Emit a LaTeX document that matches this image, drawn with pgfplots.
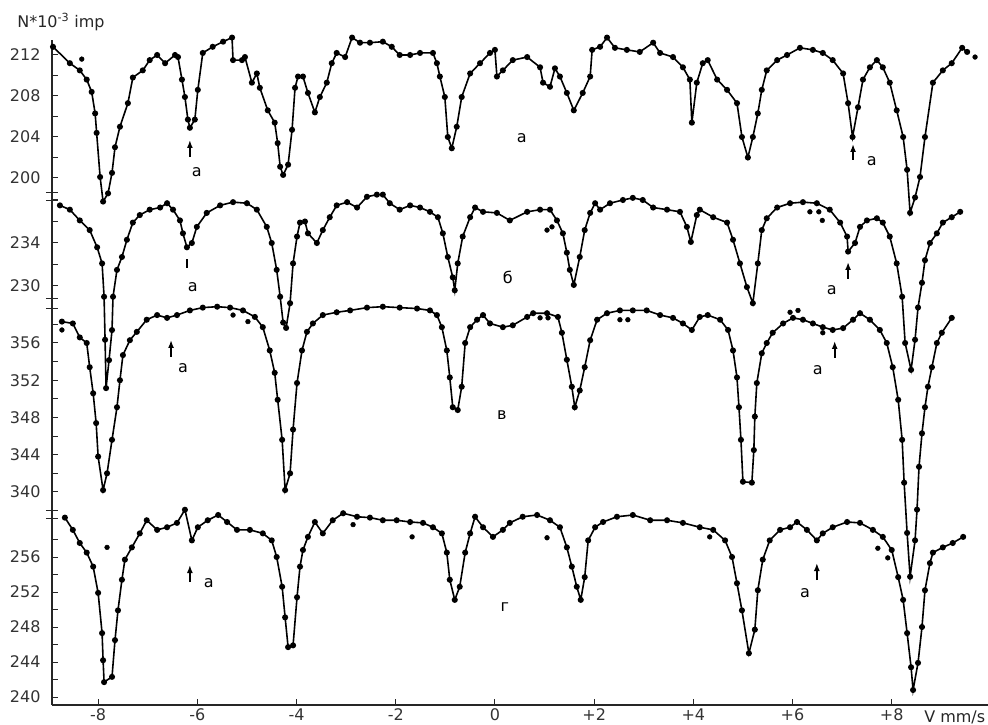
\documentclass[border=0pt]{standalone}
\usepackage{fontspec}
\setmainfont{DejaVu Sans}
\usepackage{pgfplots}
\pgfplotsset{compat=1.18}
\usetikzlibrary{arrows.meta}
\newcommand\lab{\fontsize{16}{19}\selectfont}

\tikzset{arr/.style={-{Latex[length=8pt,width=6pt]}, line width=1.6pt}}
\pgfplotsset{
  spec/.style={anchor=south west, x=49.6pt, xmin=-8.93, xmax=9.94,
    axis x line=none, axis y line*=left, y axis line style={draw=none},
    clip=false, tick align=inside, major tick length=6pt, minor tick length=6pt,
    tick style={black!85, line width=1pt},
    yticklabel style={font=\lab, text=black!80, xshift=-8pt},
    /pgf/number format/assume math mode=true,
    extra y tick labels={},
    extra y tick style={tick align=center, major tick length=12pt},
  },
  curve/.style={black, line width=1.6pt, mark=*, mark size=2.2pt, mark options={solid}},
  dots/.style={black, only marks, mark=*, mark size=2.4pt},
}

\begin{document}
\begin{tikzpicture}
\useasboundingbox (0,0) rectangle (988pt,724pt);

% frame axis (y in picture units)
\begin{axis}[at={(52pt,19pt)}, anchor=south west, x=49.6pt, y=1pt,
  xmin=-8.93, xmax=9.94, ymin=19, ymax=684,
  axis x line*=bottom, axis y line*=left,
  axis line style={line width=1.3pt, black!85},
  xtick={-8,-6,-4,-2,0,2,4,6,8}, xticklabels={-8,-6,-4,-2,0,+2,+4,+6,+8},
  ytick=\empty, tick align=inside, major tick length=6pt,
  tick style={black!85, line width=1pt},
  xticklabel style={font=\lab, text=black!80},
  clip=false]
\node[font=\lab, text=black!85] at (axis cs:9.27,7) {V mm/s};
\node[font=\lab, text=black!85, anchor=west] at (axis cs:-9.70,702) {N*10\textsuperscript{-3} imp};
% labels
\node[font=\lab] at (axis cs:-6.01,552) {а};
\node[font=\lab] at (axis cs:0.54,586) {а};
\node[font=\lab] at (axis cs:7.60,563) {а};
\node[font=\lab] at (axis cs:-6.09,437) {а};
\node[font=\lab] at (axis cs:0.26,447) {б};
\node[font=\lab] at (axis cs:6.79,434) {а};
\node[font=\lab] at (axis cs:-6.29,356) {а};
\node[font=\lab] at (axis cs:0.14,309) {в};
\node[font=\lab] at (axis cs:6.51,354) {а};
\node[font=\lab] at (axis cs:-5.77,141) {а};
\node[font=\lab] at (axis cs:0.20,117) {г};
\node[font=\lab] at (axis cs:6.25,131) {а};
% arrows
\draw[arr] (axis cs:-6.15,567) -- (axis cs:-6.15,584);
\draw[arr] (axis cs:7.22,564) -- (axis cs:7.22,580);
\draw[line width=1.8pt] (axis cs:-6.21,456) -- (axis cs:-6.21,465);
\draw[arr] (axis cs:7.12,445) -- (axis cs:7.12,462);
\draw[arr] (axis cs:-6.53,367) -- (axis cs:-6.53,384);
\draw[arr] (axis cs:6.85,366) -- (axis cs:6.85,383);
\draw[arr] (axis cs:-6.15,142) -- (axis cs:-6.15,159);
\draw[arr] (axis cs:6.49,144) -- (axis cs:6.49,161);
\end{axis}

% spectrum a (top)
\begin{axis}[spec, at={(52pt,505pt)}, y=10.25pt, ymin=196, ymax=214,
  ytick={200,204,208,212}, minor ytick={202,206,210},
  extra y ticks={198.63,197.76}]
\addplot[curve] table {
-8.91 212.8
-8.57 211.2
-8.37 210.5
-8.23 209.6
-8.13 208.4
-8.06 206.3
-8.03 204.4
-7.96 200.1
-7.90 197.7
-7.80 198.5
-7.72 200.5
-7.66 203.0
-7.56 205.0
-7.40 207.3
-7.30 209.8
-7.10 210.5
-6.96 211.5
-6.81 212.0
-6.65 211.2
-6.45 212.0
-6.39 211.8
-6.31 209.6
-6.25 207.9
-6.19 205.7
-6.15 204.9
-6.05 205.7
-5.99 208.6
-5.89 212.2
-5.69 212.8
-5.48 213.3
-5.30 213.7
-5.28 211.5
-5.10 211.5
-5.04 211.8
-4.90 209.3
-4.80 210.2
-4.74 208.8
-4.58 206.6
-4.44 205.4
-4.38 203.4
-4.33 201.1
-4.27 200.3
-4.17 201.3
-4.09 204.7
-4.03 208.8
-3.97 209.9
-3.87 209.9
-3.77 208.3
-3.63 206.4
-3.53 207.9
-3.39 209.3
-3.29 211.2
-3.19 212.2
-3.02 211.8
-2.88 213.7
-2.72 213.2
-2.52 213.2
-2.26 213.3
-2.08 212.8
-1.92 212.0
-1.71 212.0
-1.51 212.2
-1.25 212.2
-1.17 211.2
-1.11 209.9
-1.01 207.9
-0.95 204.0
-0.87 202.9
-0.77 205.0
-0.67 207.9
-0.50 210.2
-0.30 211.2
-0.10 212.2
0.00 212.5
0.04 209.9
0.16 210.5
0.36 211.5
0.65 211.8
0.91 210.8
0.97 209.3
1.11 208.9
1.21 210.7
1.31 209.9
1.45 208.3
1.59 206.6
1.77 208.3
1.92 209.9
1.96 212.5
2.12 212.8
2.26 213.7
2.42 212.7
2.66 212.5
2.92 212.3
3.19 213.2
3.33 212.2
3.59 211.8
3.79 210.8
3.93 209.6
3.97 205.4
4.07 209.3
4.19 211.2
4.29 211.5
4.48 209.6
4.68 208.6
4.88 207.3
4.98 204.0
5.10 202.0
5.20 204.0
5.30 206.3
5.38 208.6
5.48 210.5
5.69 211.5
5.89 212.0
6.15 212.7
6.41 212.5
6.61 212.2
6.81 211.5
7.02 210.2
7.12 207.3
7.21 204.0
7.32 206.9
7.42 209.6
7.56 210.8
7.70 211.5
7.82 210.8
7.96 209.3
8.10 206.6
8.23 204.0
8.31 200.8
8.37 196.6
8.47 198.1
8.57 200.1
8.67 204.0
8.83 209.3
9.03 210.5
9.21 211.2
9.42 212.7
9.52 212.3
};
\addplot[dots] table {
-8.33 211.6
9.68 211.8
};
\end{axis}

% spectrum b
\begin{axis}[spec, at={(52pt,330.5pt)}, y=10.75pt, ymin=220, ymax=240,
  ytick={230,234}, minor ytick={232,236,238},
  extra y ticks={228.88,227.95}]
\addplot[curve] table {
-8.77 237.5
-8.57 237.1
-8.37 236.1
-8.17 235.2
-8.02 233.6
-7.92 232.1
-7.88 229.0
-7.86 225.0
-7.84 220.5
-7.78 223.1
-7.72 225.9
-7.70 229.0
-7.62 231.5
-7.52 232.7
-7.42 234.3
-7.30 235.9
-7.16 236.6
-6.96 237.1
-6.75 237.3
-6.61 237.7
-6.49 237.1
-6.35 236.1
-6.29 234.9
-6.21 233.6
-6.11 234.0
-6.01 235.5
-5.81 236.8
-5.54 237.5
-5.28 237.8
-5.00 237.7
-4.80 237.1
-4.60 235.5
-4.50 234.0
-4.40 231.5
-4.33 229.0
-4.27 226.6
-4.21 226.1
-4.13 228.4
-4.07 232.1
-3.99 234.6
-3.93 235.9
-3.83 236.0
-3.77 234.9
-3.59 234.0
-3.47 235.2
-3.33 236.4
-3.19 237.5
-2.98 237.8
-2.78 237.3
-2.58 238.3
-2.38 238.5
-2.26 238.5
-2.12 237.7
-1.92 237.1
-1.71 237.5
-1.51 237.3
-1.31 236.9
-1.15 236.4
-1.05 234.9
-0.95 232.7
-0.85 230.8
-0.81 229.6
-0.75 232.1
-0.65 234.6
-0.50 236.4
-0.40 237.3
-0.24 236.9
0.04 236.8
0.30 236.1
0.65 236.9
0.91 237.1
1.11 237.1
1.25 236.1
1.37 234.9
1.45 233.1
1.51 231.5
1.59 230.1
1.71 232.7
1.81 235.2
1.92 236.8
2.02 237.7
2.12 237.1
2.32 237.7
2.58 238.0
2.78 238.2
2.98 238.0
3.19 237.3
3.47 237.1
3.73 236.9
3.87 235.5
3.95 234.1
4.07 236.6
4.13 237.1
4.40 236.4
4.68 235.9
4.80 234.3
4.94 232.1
5.08 229.9
5.20 228.4
5.30 232.1
5.38 235.2
5.48 236.3
5.69 237.3
5.95 237.7
6.21 237.8
6.49 237.7
6.75 237.1
6.96 235.9
7.10 234.6
7.12 233.2
7.26 234.0
7.36 235.5
7.50 236.1
7.70 236.3
7.82 235.9
7.96 234.6
8.10 232.1
8.21 229.0
8.27 224.7
8.39 222.2
8.47 225.0
8.53 228.0
8.61 230.3
8.67 232.4
8.77 234.0
8.91 234.9
9.03 235.9
9.21 236.4
9.38 236.9
};
\addplot[dots] table {
1.05 235.2
1.15 235.5
6.35 236.9
6.53 236.9
6.60 236.1
};
\end{axis}

% spectrum v
\begin{axis}[spec, at={(52pt,138.94pt)}, y=9.31pt, ymin=330, ymax=361,
  ytick={340,344,348,352,356}, minor ytick={342,346,350,354,358},
  extra y ticks={338.06,337.2}]
\addplot[curve] table {
-8.73 358.3
-8.51 358.1
-8.37 356.6
-8.23 356.0
-8.17 353.4
-8.10 350.6
-8.04 347.4
-8.00 343.8
-7.90 340.2
-7.82 342.0
-7.72 345.6
-7.62 349.1
-7.56 352.0
-7.50 354.7
-7.36 356.3
-7.22 357.2
-7.02 358.5
-6.81 359.0
-6.61 358.7
-6.41 359.0
-6.15 359.5
-5.89 359.8
-5.60 359.9
-5.34 359.8
-5.08 359.5
-4.84 358.8
-4.68 357.7
-4.54 355.2
-4.44 352.8
-4.38 349.9
-4.29 345.6
-4.23 340.2
-4.13 342.0
-4.07 346.7
-3.99 351.7
-3.89 355.2
-3.79 357.2
-3.67 358.1
-3.47 359.0
-3.19 359.3
-2.92 359.5
-2.58 359.8
-2.26 359.9
-1.92 359.8
-1.57 359.7
-1.31 359.5
-1.17 359.0
-1.07 357.7
-0.97 355.2
-0.91 352.3
-0.85 349.1
-0.75 348.8
-0.67 351.3
-0.60 356.0
-0.50 357.7
-0.36 358.5
-0.24 359.0
-0.10 358.1
0.16 357.7
0.36 357.9
0.65 358.8
0.77 359.2
1.05 359.2
1.27 358.8
1.35 357.1
1.45 354.2
1.55 351.3
1.61 349.1
1.71 350.9
1.81 353.4
1.92 356.3
2.06 358.5
2.26 359.2
2.52 359.5
2.78 359.5
3.06 359.5
3.33 359.0
3.59 358.7
3.79 358.1
3.97 357.4
4.13 358.8
4.29 359.0
4.54 358.5
4.70 357.4
4.80 355.2
4.88 352.3
4.92 349.1
4.96 345.6
5.00 341.1
5.18 341.0
5.22 344.5
5.24 348.1
5.28 351.7
5.38 354.9
5.48 356.0
5.60 357.1
5.81 358.1
6.01 358.7
6.21 358.5
6.41 358.1
6.61 357.7
6.81 357.4
7.02 357.6
7.22 358.5
7.36 359.2
7.56 358.5
7.76 357.4
7.90 356.0
8.02 353.4
8.13 349.9
8.21 345.6
8.25 341.0
8.31 335.6
8.37 330.9
8.47 334.8
8.51 338.1
8.55 342.7
8.61 346.3
8.67 349.1
8.73 351.3
8.81 353.4
8.91 356.0
9.01 357.1
9.21 358.7
};
\addplot[dots] table {
-8.73 357.4
-5.28 359.0
-4.98 358.3
0.91 358.7
1.07 358.7
2.52 358.5
2.68 358.5
5.95 359.3
6.11 359.5
6.61 357.1
};
\end{axis}

% spectrum g
\begin{axis}[spec, at={(52pt,27pt)}, y=8.75pt, ymin=240, ymax=262,
  ytick={240,244,248,252,256}, minor ytick={242,246,250,254,258}]
\addplot[curve] table {
-8.67 260.5
-8.51 259.1
-8.37 257.6
-8.23 256.5
-8.10 254.9
-8.00 251.9
-7.92 247.3
-7.90 244.2
-7.88 241.7
-7.72 242.3
-7.66 246.5
-7.60 249.9
-7.52 253.4
-7.46 255.7
-7.32 257.1
-7.16 258.7
-7.02 260.2
-6.81 259.1
-6.61 259.4
-6.41 259.9
-6.25 261.4
-6.11 257.9
-5.99 259.4
-5.79 260.2
-5.58 260.8
-5.40 260.0
-5.20 259.1
-4.94 259.1
-4.68 258.7
-4.50 257.9
-4.40 256.0
-4.29 252.6
-4.23 249.1
-4.17 245.7
-4.07 245.9
-3.99 251.4
-3.93 254.9
-3.87 256.8
-3.77 258.3
-3.63 260.0
-3.47 258.7
-3.27 260.2
-3.06 261.0
-2.78 260.6
-2.52 260.5
-2.26 260.2
-1.98 260.2
-1.71 260.0
-1.45 259.9
-1.25 259.4
-1.07 258.7
-0.97 256.5
-0.91 253.4
-0.81 251.1
-0.71 252.6
-0.60 256.5
-0.50 258.7
-0.40 260.6
-0.24 259.4
-0.04 258.3
0.16 259.1
0.30 259.9
0.56 260.6
0.85 260.8
1.11 260.2
1.31 259.4
1.45 257.1
1.55 254.9
1.65 252.6
1.73 251.1
1.81 253.7
1.88 257.9
2.02 259.4
2.18 260.0
2.46 260.6
2.78 260.8
3.13 260.2
3.47 260.2
3.79 259.9
4.13 259.4
4.40 259.1
4.64 257.9
4.78 256.0
4.88 253.0
4.98 249.9
5.12 245.0
5.24 247.7
5.30 252.2
5.40 255.7
5.54 257.9
5.75 259.1
5.95 259.4
6.09 260.0
6.29 259.1
6.49 257.9
6.61 258.7
6.81 259.4
7.10 260.0
7.36 259.9
7.62 259.1
7.82 258.3
8.00 256.8
8.13 253.7
8.23 251.1
8.31 247.3
8.39 243.4
8.43 240.8
8.53 243.9
8.61 248.0
8.67 252.2
8.77 255.3
8.83 256.5
9.03 257.1
9.23 257.6
9.44 258.3
};
\addplot[dots] table {
-7.82 257.1
-2.86 259.7
-1.67 258.3
1.05 258.2
4.33 258.3
7.72 257.0
7.92 255.9
};
\end{axis}
\end{tikzpicture}
\end{document}
